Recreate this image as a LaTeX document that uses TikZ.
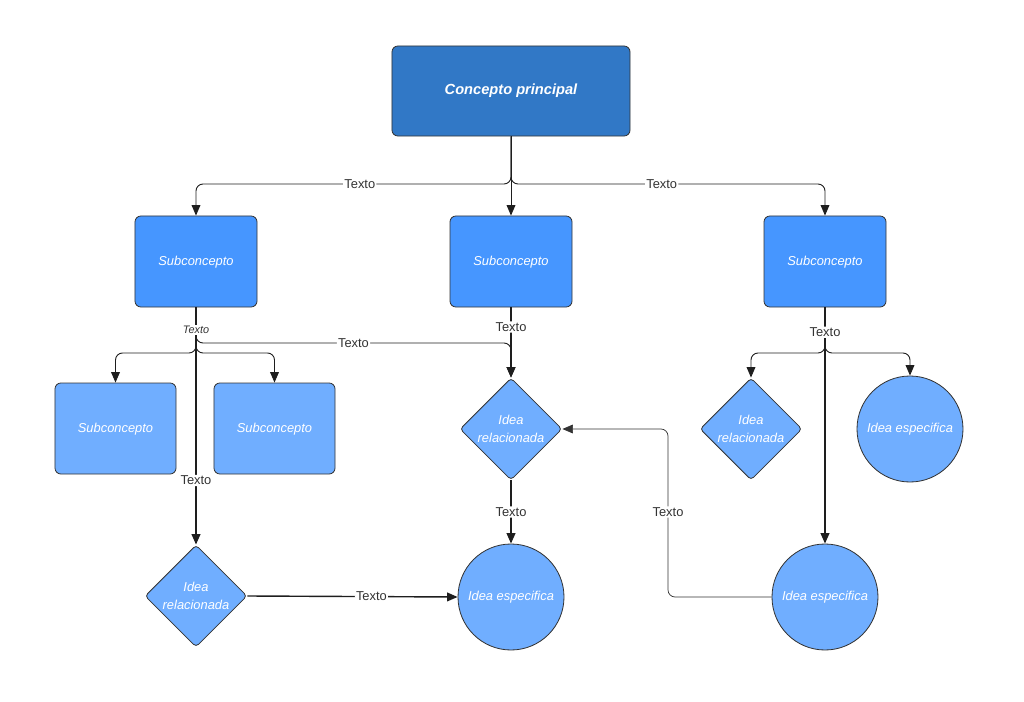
\documentclass[tikz,border=0pt]{standalone}
\usepackage{fontspec}
\setmainfont{Liberation Sans}
\usetikzlibrary{shapes.geometric, arrows.meta}

\definecolor{mainblue}{HTML}{3178C6}
\definecolor{subblue}{HTML}{4696FF}
\definecolor{ideablue}{HTML}{70AEFF}
\definecolor{linegray}{HTML}{333333}
\definecolor{wiregray}{HTML}{1E1E1E}

\begin{document}
\begin{tikzpicture}[x=0.03cm, y=-0.03cm,
  base/.style={draw=linegray, line width=0.7pt, text=white, inner sep=0pt,
    font=\itshape\fontsize{11}{15}\selectfont, align=center},
  oneline/.style={text height=0.6em, text depth=0pt},
  topbox/.style={base, oneline, fill=mainblue, rounded corners=5pt, minimum width=7.14cm,
    minimum height=2.7cm, font=\bfseries\itshape\fontsize{12.5}{15}\selectfont},
  subbox/.style={base, oneline, fill=subblue, rounded corners=5pt, minimum width=3.66cm, minimum height=2.73cm},
  leafbox/.style={base, oneline, fill=ideablue, rounded corners=5pt, minimum width=3.63cm, minimum height=2.73cm},
  idea/.style={base, fill=ideablue, diamond, aspect=1, rounded corners=3pt, minimum size=3.06cm},
  spec/.style={base, oneline, fill=ideablue, circle, minimum size=3.18cm},
  conn/.style={draw=wiregray, line width=0.8pt, rounded corners=6pt, -{Triangle[length=9pt,width=7.5pt]}},
  heavy/.style={conn, line width=1.5pt},
  lbl/.style={fill=white, inner sep=1pt, text=linegray, font=\fontsize{11}{13}\selectfont},
  ]
  \useasboundingbox (0,0) rectangle (1024,702);

  % Main concept and first level
  \node[topbox] (main) at (511,91) {Concepto principal};
  \node[subbox] (subL) at (196,261.5) {Subconcepto};
  \node[subbox] (subM) at (511,261.5) {Subconcepto};
  \node[subbox] (subR) at (825,261.5) {Subconcepto};

  % Second level
  \node[leafbox] (leafA) at (115.5,428.5) {Subconcepto};
  \node[leafbox] (leafB) at (274.5,428.5) {Subconcepto};
  \node[idea] (ideaM) at (511,429) {Idea\\relacionada};
  \node[idea] (ideaR) at (751,429) {Idea\\relacionada};
  \node[spec] (specR) at (910,429) {Idea especifica};

  % Third level
  \node[idea] (ideaL) at (196,596) {Idea\\relacionada};
  \node[spec] (specM) at (511,597) {Idea especifica};
  \node[spec] (specB) at (825,597) {Idea especifica};

  % Branch points
  \coordinate (t0) at (511,184);
  \coordinate (tL) at (196,353);
  \coordinate (tLm) at (196,343);
  \coordinate (tR) at (825,353);
  \coordinate (kink) at (668,512);

  % From the main concept
  \draw[conn] (main.south) -- (t0) -| node[lbl, pos=0.24] (m1) {Texto} (subL.north);
  \draw[conn] (main.south) -- (subM.north);
  \draw[conn] (main.south) -- (t0) -| node[lbl, pos=0.24] (m2) {Texto} (subR.north);

  % Left subconcept
  \draw[conn] (subL.south) -- (tL) -| (leafA.north);
  \draw[conn] (subL.south) -- (tL) -| (leafB.north);
  \draw[conn] (subL.south) -- (tLm) -| node[lbl, pos=0.25] (l2) {Texto} (ideaM.north);
  \draw[heavy] (subL.south) -- node[lbl, pos=0.73] (l3) {Texto} (ideaL.north);
  \node[lbl, font=\itshape\fontsize{9.3}{11}\selectfont] (l1) at (196,330) {Texto};

  % Middle subconcept
  \draw[heavy] (subM.south) -- node[lbl, pos=0.28] (c1) {Texto} (ideaM.north);
  \draw[heavy] (ideaM.south) -- node[lbl] (c2) {Texto} (specM.north);
  \draw[conn, line width=1.2pt] (ideaL.east) -- node[lbl, pos=0.59] (c3) {Texto} (specM.west);

  % Right subconcept
  \draw[conn] (subR.south) -- (tR) -| (ideaR.north);
  \draw[conn] (subR.south) -- (tR) -| (specR.north);
  \draw[heavy] (subR.south) -- node[lbl, pos=0.105] (r1) {Texto} (specB.north);
  \draw[conn, draw=linegray, line width=0.6pt] (specB.west) -| (kink) node[lbl] (r2) {Texto} |- (ideaM.east);
\end{tikzpicture}
\end{document}
